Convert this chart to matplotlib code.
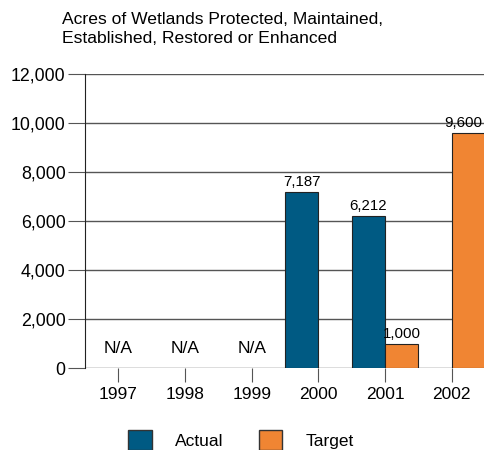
import numpy as np
import matplotlib.pyplot as plt
from matplotlib.patches import Patch

plt.rcParams['font.family'] = ['Liberation Sans', 'DejaVu Sans']

years = ['1997', '1998', '1999', '2000', '2001', '2002']
actual = [None, None, None, 7187, 6212, None]
target = [None, None, None, None, 1000, 9600]
na_years = ['1997', '1998', '1999']

blue = '#005a83'
orange = '#f08533'

fig = plt.figure(figsize=(4.85, 4.5), dpi=100)
ax = fig.add_axes([0.1753, 0.1822, 0.8247, 0.6534])

x = np.arange(len(years))
w = 0.5

for i, v in enumerate(actual):
    if v is not None:
        ax.bar(x[i] - w / 2, v, width=w, color=blue, edgecolor='#222222', linewidth=0.8, zorder=3)
        ax.text(x[i] - w / 2, v + 120, f'{v:,}', ha='center', va='bottom', fontsize=10.8)
for i, v in enumerate(target):
    if v is not None:
        # last label sits at the right edge, nudge it inside
        lx = x[i] + w / 2 if i < len(years) - 1 else x[i] + w / 2 - 0.07
        ax.bar(x[i] + w / 2, v, width=w, color=orange, edgecolor='#222222', linewidth=0.8, zorder=3)
        ax.text(lx, v + 120, f'{v:,}', ha='center', va='bottom', fontsize=10.8)

for yr in na_years:
    ax.text(years.index(yr), 500, 'N/A', ha='center', va='bottom', fontsize=12.5)

ax.set_xlim(-0.5, 5.5)
ax.set_ylim(0, 12000)
ax.set_yticks(range(0, 12001, 2000))
ax.set_yticklabels([f'{t:,}' for t in range(0, 12001, 2000)], fontsize=12.8)
ax.set_xticks(x)
ax.set_xticklabels(years, fontsize=12.5)
ax.yaxis.grid(True, color='#555555', linewidth=1, zorder=0)
ax.set_axisbelow(True)
for s in ['top', 'right', 'bottom']:
    ax.spines[s].set_visible(False)
ax.spines['left'].set_color('#222222')
ax.tick_params(axis='y', length=12, color='#555555', pad=2)
ax.tick_params(axis='x', length=10, color='#555555', pad=4)

fig.text(0.128, 0.935, 'Acres of Wetlands Protected, Maintained,\nEstablished, Restored or Enhanced',
         fontsize=12.6, ha='left', va='center', linespacing=1.35)

handles = [Patch(facecolor=blue, edgecolor='#333333', label='Actual'),
           Patch(facecolor=orange, edgecolor='#333333', label='Target')]
fig.legend(handles=handles, loc='center', bbox_to_anchor=(0.497, 0.022), ncol=2, frameon=False,
           fontsize=12.5, handlelength=1.35, handleheight=1.35, handletextpad=1.35, columnspacing=2.0)

fig.savefig('out.png', dpi=100)
